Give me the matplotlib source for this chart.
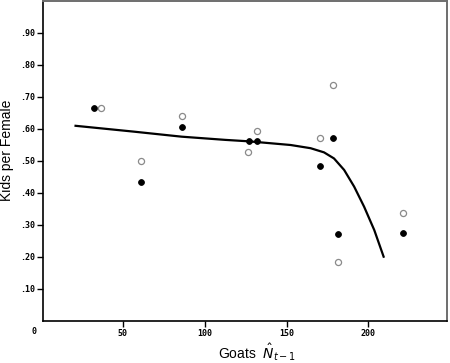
import matplotlib
matplotlib.use("Agg")
import matplotlib.pyplot as plt

# Data
filled_x = [32.2, 60.9, 86.2, 126.9, 131.8, 170.7, 178.4, 181.3, 221.2]
filled_y = [0.667, 0.433, 0.605, 0.5615, 0.5635, 0.483, 0.573, 0.273, 0.276]
open_x = [36.5, 61.0, 86.0, 126.3, 131.8, 170.4, 178.4, 181.3, 221.2]
open_y = [0.667, 0.500, 0.640, 0.529, 0.595, 0.572, 0.7375, 0.183, 0.336]

curve_x = [21.2, 56.3, 86.0, 112.6, 126.9, 152.5, 164.7, 172.9, 179.0,
           185.2, 191.3, 197.4, 203.6, 209.3]
curve_y = [0.610, 0.592, 0.576, 0.566, 0.5615, 0.550, 0.540, 0.527, 0.508,
           0.472, 0.420, 0.357, 0.284, 0.201]

xticks = [50, 100, 150, 200]
xtick_labels = ["50", "100", "150", "200"]
yticks = [0.1, 0.2, 0.3, 0.4, 0.5, 0.6, 0.7, 0.8, 0.9]
ytick_labels = [".10", ".20", ".30", ".40", ".50", ".60", ".70", ".80", ".90"]

fig = plt.figure(figsize=(4.5, 3.63), dpi=100)
ax = fig.add_axes([43.3 / 450, 42 / 363, (447 - 43.3) / 450, (321 - 1) / 363])

ax.plot(curve_x, curve_y, color="black", lw=1.6, zorder=2,
        solid_joinstyle="round")
ax.plot(filled_x, filled_y, "o", ms=4.2, mfc="black", mec="black", mew=0.6, zorder=3)
ax.plot(open_x, open_y, "o", ms=4.4, mfc="white", mec="#8a8a8a", mew=0.9, zorder=3)

ax.set_xlim(1.5, 248)
ax.set_ylim(0, 1.0)

tick_font = dict(family="DejaVu Sans Mono", weight="bold", size=6.0)
ax.set_xticks(xticks)
ax.set_xticklabels(xtick_labels, fontdict=tick_font)
ax.set_yticks(yticks)
ax.set_yticklabels(ytick_labels, fontdict=tick_font)
ax.tick_params(axis="both", direction="out", length=4, width=1.0, colors="black", pad=2)

ax.text(-4.0, -0.034, "0", ha="center", va="center", clip_on=False,
        fontdict=tick_font)

for side in ["left", "bottom"]:
    ax.spines[side].set_color("black")
    ax.spines[side].set_linewidth(1.2)
for side in ["top", "right"]:
    ax.spines[side].set_color("#6e6e6e")
    ax.spines[side].set_linewidth(1.4)

fig.text(7 / 450, 1 - 150 / 363, "Kids per Female", rotation=90, ha="center",
         va="center", fontsize=10, family="Liberation Sans")
fig.text(257 / 450, 1 - 352 / 363, r"Goats  $\hat{N}_{t-1}$", ha="center",
         va="center", fontsize=10, family="Liberation Sans")

fig.savefig("out.png", dpi=100)
